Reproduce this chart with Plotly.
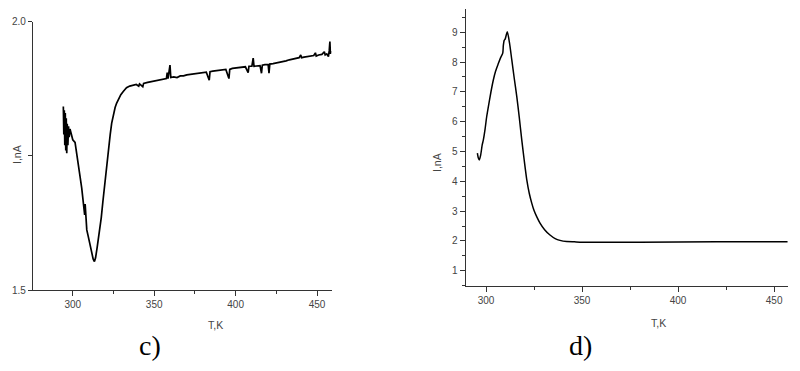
import plotly.graph_objects as go

# ---- Panel c) data ----
c_T = [294.2, 294.5, 294.8, 295.1, 295.4, 295.7, 296.0, 296.3, 296.6, 297.0, 297.4, 297.8,
       298.3, 299.0, 300.0, 301.4, 302.5, 303.5, 304.5, 305.5, 306.5, 307.3, 307.6, 308.0,
       308.6, 309.5, 310.5, 311.5, 312.5, 313.3, 314.0, 315.0, 316.0, 316.7, 317.5, 318.5,
       319.8, 320.8, 322.0, 323.0, 323.9, 325.0, 326.0, 326.9, 328.0, 329.5, 331.0, 333.0,
       335.0, 337.0, 339.0, 340.5, 341.0, 343.0, 343.5, 346.0, 348.0, 350.0, 352.0, 354.0,
       356.0, 357.5, 358.0, 358.5, 359.7, 360.2, 362.0, 364.0, 366.0, 368.0, 370.0, 372.0,
       374.0, 376.0, 378.0, 380.0, 382.0, 383.8, 384.3, 386.0, 388.0, 390.0, 392.0, 394.0,
       395.9, 396.4, 398.0, 400.0, 402.0, 404.0, 406.0, 407.7, 408.2, 410.0, 410.8, 411.3,
       413.0, 415.0, 415.9, 416.4, 418.0, 420.0, 420.5, 421.0, 423.0, 425.0, 427.0, 429.0,
       431.0, 433.0, 435.0, 437.0, 439.0, 440.0, 440.5, 442.0, 444.0, 446.0, 448.0, 449.0,
       449.5, 451.0, 453.0, 454.5, 455.0, 456.0, 457.0, 457.5, 457.9, 458.2, 458.5]
c_I = [1.842, 1.790, 1.835, 1.770, 1.830, 1.760, 1.820, 1.755, 1.810, 1.770, 1.805, 1.785,
       1.800, 1.790, 1.780, 1.775, 1.755, 1.730, 1.711, 1.690, 1.665, 1.640, 1.660, 1.625,
       1.612, 1.600, 1.585, 1.570, 1.558, 1.553, 1.560, 1.580, 1.600, 1.612, 1.635, 1.665,
       1.705, 1.730, 1.765, 1.790, 1.811, 1.828, 1.840, 1.848, 1.856, 1.864, 1.870, 1.877,
       1.880, 1.882, 1.883, 1.880, 1.884, 1.879, 1.885, 1.887, 1.888, 1.889, 1.890, 1.891,
       1.893, 1.894, 1.905, 1.894, 1.919, 1.896, 1.897, 1.896, 1.899, 1.899, 1.901, 1.902,
       1.903, 1.903, 1.905, 1.906, 1.906, 1.891, 1.907, 1.908, 1.909, 1.909, 1.910, 1.911,
       1.894, 1.911, 1.913, 1.914, 1.914, 1.915, 1.916, 1.905, 1.917, 1.917, 1.932, 1.917,
       1.918, 1.918, 1.904, 1.919, 1.920, 1.920, 1.904, 1.921, 1.922, 1.923, 1.924, 1.926,
       1.927, 1.929, 1.930, 1.931, 1.933, 1.938, 1.933, 1.934, 1.935, 1.936, 1.937, 1.942,
       1.936, 1.938, 1.939, 1.944, 1.938, 1.940, 1.935, 1.946, 1.963, 1.940, 1.945]

# ---- Panel d) data ----
d_T = [295.5, 296.0, 296.5, 297.2, 298.0, 298.6, 299.5, 300.3, 301.2, 302.5, 303.8, 305.0,
       306.4, 307.6, 308.7, 309.0, 309.4, 310.0, 310.5, 311.1, 312.2, 313.4, 314.7, 316.0,
       317.3, 318.6, 319.9, 321.2, 322.5, 323.8, 325.0, 326.5, 328.1, 330.5, 333.3, 336.0,
       338.5, 342.0, 346.0, 350.0, 380.0, 420.0, 457.0]
d_I = [4.95, 4.78, 4.72, 4.88, 5.22, 5.39, 5.75, 6.15, 6.50, 6.98, 7.40, 7.70,
       7.95, 8.15, 8.30, 8.55, 8.72, 8.78, 8.90, 9.02, 8.65, 8.08, 7.45, 6.85,
       6.15, 5.39, 4.70, 4.06, 3.60, 3.27, 3.02, 2.80, 2.60, 2.38, 2.20, 2.08,
       2.02, 1.98, 1.97, 1.96, 1.96, 1.97, 1.97]

c_ytickvals = [1.5, 1.75, 2.0]
c_yticktext = ["1.5", "", "2.0"]
x_tickvals = [300, 350, 400, 450]
d_ytickvals = [1, 2, 3, 4, 5, 6, 7, 8, 9]

fig = go.Figure()
fig.add_trace(go.Scatter(x=c_T, y=c_I, mode="lines", xaxis="x", yaxis="y",
                         line=dict(color="black", width=1.7), showlegend=False))
fig.add_trace(go.Scatter(x=d_T, y=d_I, mode="lines", xaxis="x2", yaxis="y2",
                         line=dict(color="black", width=1.5, shape="spline", smoothing=0.6),
                         showlegend=False))

tickfont = dict(family="Liberation Sans, Arial", size=10, color="#444")
axcommon = dict(showline=True, linecolor="#333", linewidth=1.2, showgrid=False,
                zeroline=False, ticks="outside", tickcolor="#333", tickwidth=1,
                tickfont=tickfont, mirror=False, automargin=False)

fig.update_layout(
    width=800, height=371,
    margin=dict(l=0, r=0, t=0, b=0, autoexpand=False),
    paper_bgcolor="white", plot_bgcolor="white",
    xaxis=dict(domain=[0.0413, 0.4146], range=[275.6, 459], anchor="y",
               tickvals=x_tickvals, ticklen=5,
               minor=dict(dtick=25, tick0=0, ticks="outside", ticklen=3, tickcolor="#333"),
               **axcommon),
    yaxis=dict(domain=[0.2183, 0.9415], range=[1.5, 2.0], anchor="x",
               tickvals=c_ytickvals, ticktext=c_yticktext, ticklen=4, **axcommon),
    xaxis2=dict(domain=[0.5821, 0.9854], range=[289.4, 457.4], anchor="y2",
                tickvals=x_tickvals, ticklen=5,
                minor=dict(dtick=25, tick0=0, ticks="outside", ticklen=3, tickcolor="#333"),
                **axcommon),
    yaxis2=dict(domain=[0.2291, 0.9749], range=[0.49, 9.77], anchor="x2",
                tickvals=d_ytickvals, ticklen=5,
                minor=dict(dtick=0.5, tick0=0, ticks="outside", ticklen=3, tickcolor="#333"),
                **axcommon),
)

labfont = dict(family="Liberation Sans, Arial", size=10.5, color="#444")
ann = [
    dict(text="T,K", x=215/800, y=1-325/371, font=labfont),
    dict(text="T,K", x=658/800, y=1-323/371, font=labfont),
    dict(text="I,nA", x=17/800, y=1-155/371, font=labfont, textangle=-90),
    dict(text="I,nA", x=437/800, y=1-163/371, font=labfont, textangle=-90),
    dict(text="c)", x=150/800, y=1-345/371,
         font=dict(family="Liberation Serif, Times New Roman", size=28, color="black")),
    dict(text="d)", x=580/800, y=1-345/371,
         font=dict(family="Liberation Serif, Times New Roman", size=28, color="black")),
]
for a in ann:
    fig.add_annotation(xref="paper", yref="paper", showarrow=False,
                       xanchor="center", yanchor="middle", **a)

fig.write_html("out.html", config={"displayModeBar": False},
               post_script="document.body.style.margin='0';")
